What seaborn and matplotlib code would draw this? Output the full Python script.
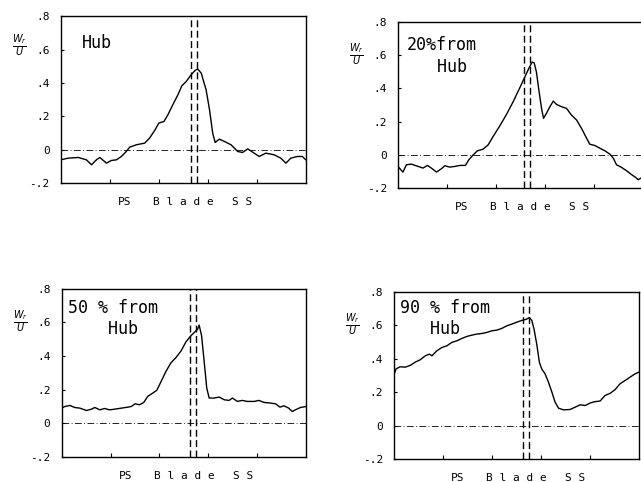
import matplotlib
matplotlib.use("Agg")
import matplotlib.pyplot as plt
import seaborn as sns
import pandas as pd

# pitch position (% of traverse) and Wr/U readings for each span station
hub_x = [0, 3.0, 7.1, 10.4, 12.5, 14.5, 15.9, 18.6, 20.6, 22.7, 24.7, 26.7, 28.1, 30.8,
         34.2, 36.2, 38.3, 40.0, 42.1, 43.7, 45.7, 47.8, 49.4, 51.2, 53.2, 54.8, 55.9,
         57.3, 59.3, 60.7, 62.0, 63.0, 64.7, 66.8, 69.5, 72.2, 74.2, 76.3, 78.3, 81.0,
         83.7, 87.1, 89.8, 91.9, 93.9, 96.6, 98.6, 100]
hub_w = [-0.06, -0.05, -0.046, -0.06, -0.09, -0.06, -0.046, -0.08, -0.064, -0.06, -0.04,
         -0.01, 0.016, 0.03, 0.04, 0.07, 0.116, 0.16, 0.17, 0.21, 0.27, 0.33, 0.384, 0.41,
         0.45, 0.476, 0.484, 0.46, 0.36, 0.24, 0.10, 0.044, 0.064, 0.05, 0.03, -0.01,
         -0.016, 0.006, -0.014, -0.04, -0.02, -0.03, -0.05, -0.08, -0.05, -0.04, -0.04, -0.06]

s20_x = [0, 1.1, 2.0, 3.4, 5.4, 8.2, 10.2, 12.0, 13.6, 15.7, 17.7, 19.1, 21.1, 23.2, 25.2,
         27.5, 28.9, 30.7, 32.4, 34.7, 36.8, 38.8, 41.6, 44.3, 47.0, 49.7, 51.8, 53.5, 54.8,
         55.6, 56.5, 57.6, 58.6, 59.4, 60.6, 62.0, 63.4, 64.7, 66.8, 68.8, 70.8, 72.9, 74.9,
         77.0, 78.3, 80.4, 82.4, 84.5, 86.5, 87.9, 89.2, 91.3, 93.3, 95.4, 97.0, 98.1, 99.2]
s20_w = [-0.07, -0.09, -0.104, -0.06, -0.056, -0.07, -0.08, -0.064, -0.08, -0.104, -0.084,
         -0.066, -0.074, -0.07, -0.064, -0.064, -0.03, 0.0, 0.024, 0.034, 0.06, 0.11, 0.176,
         0.244, 0.32, 0.404, 0.47, 0.524, 0.56, 0.554, 0.50, 0.38, 0.28, 0.22, 0.25, 0.29,
         0.324, 0.304, 0.29, 0.28, 0.24, 0.21, 0.16, 0.10, 0.064, 0.056, 0.04, 0.024, 0.004,
         -0.02, -0.06, -0.076, -0.096, -0.12, -0.136, -0.15, -0.14]

s50_x = [0, 1.4, 3.4, 5.4, 7.5, 10.2, 12.2, 13.6, 15.6, 17.6, 19.6, 21.7, 24.4, 27.1, 28.5,
         30.1, 31.8, 33.6, 35.2, 37.3, 38.9, 40.7, 42.7, 44.7, 46.7, 48.8, 50.8, 52.8, 54.5,
         55.6, 56.2, 57.2, 58.3, 59.3, 60.3, 62.3, 64.4, 66.4, 68.4, 69.8, 71.8, 73.8, 75.9,
         78.6, 80.6, 82.7, 85.4, 87.4, 89.2, 90.8, 92.8, 94.2, 95.5, 97.6, 100]
s50_w = [0.09, 0.10, 0.106, 0.094, 0.09, 0.076, 0.084, 0.094, 0.08, 0.088, 0.08, 0.084, 0.09,
         0.096, 0.10, 0.116, 0.11, 0.124, 0.16, 0.18, 0.196, 0.25, 0.31, 0.36, 0.39, 0.43,
         0.484, 0.52, 0.544, 0.56, 0.584, 0.52, 0.36, 0.21, 0.15, 0.15, 0.156, 0.14, 0.136,
         0.15, 0.13, 0.136, 0.13, 0.13, 0.136, 0.124, 0.12, 0.116, 0.096, 0.104, 0.09, 0.07,
         0.08, 0.094, 0.10]

s90_x = [0, 0.8, 2.4, 4.5, 6.5, 8.6, 10.6, 12.7, 14.4, 15.4, 17.4, 19.5, 21.5, 23.5, 25.6,
         27.6, 29.7, 31.7, 33.7, 35.8, 37.8, 39.9, 41.9, 43.9, 46.0, 48.0, 50.1, 52.1, 53.9,
         55.2, 56.2, 57.1, 58.2, 59.3, 60.3, 61.6, 63.0, 64.4, 65.7, 67.1, 69.1, 71.8, 73.9,
         75.9, 78.0, 80.0, 82.0, 84.1, 86.1, 88.2, 90.2, 92.2, 94.3, 96.3, 98.4, 100.4]
s90_w = [0.31, 0.34, 0.352, 0.35, 0.36, 0.38, 0.394, 0.418, 0.428, 0.418, 0.448, 0.468,
         0.478, 0.498, 0.508, 0.522, 0.534, 0.542, 0.548, 0.552, 0.558, 0.568, 0.572, 0.582,
         0.598, 0.608, 0.62, 0.63, 0.637, 0.647, 0.63, 0.578, 0.488, 0.378, 0.338, 0.31,
         0.26, 0.2, 0.14, 0.104, 0.094, 0.096, 0.11, 0.124, 0.12, 0.135, 0.143, 0.147, 0.18,
         0.193, 0.215, 0.25, 0.27, 0.29, 0.31, 0.323]

titles = ["Hub", "20%from\n   Hub", "50 % from\n    Hub", "90 % from\n   Hub"]
blade_edges = [(53.2, 55.4), (51.4, 53.8), (52.4, 54.9), (52.4, 55.1)]
y_ticks = [-0.2, 0, 0.2, 0.4, 0.6, 0.8]
y_ticklabels = ["-.2", "0", ".2", ".4", ".6", ".8"]

sns.set_style("white")
plt.rcParams["font.family"] = ["DejaVu Sans Mono", "DejaVu Sans"]
plt.rcParams["text.color"] = "black"
plt.rcParams["xtick.color"] = "black"
plt.rcParams["ytick.color"] = "black"

fig = plt.figure(figsize=(6.41, 4.82), dpi=100)
positions = [[0.095, 0.620, 0.382, 0.346],
             [0.621, 0.610, 0.382, 0.344],
             [0.096, 0.052, 0.382, 0.349],
             [0.615, 0.048, 0.382, 0.346]]
curves = [(hub_x, hub_w), (s20_x, s20_w), (s50_x, s50_w), (s90_x, s90_w)]
title_pos = [(0.085, 0.84, "center"), (0.035, 0.915, "top"),
             (0.025, 0.94, "top"), (0.024, 0.96, "top")]
frac_y = [0.82, 0.80, 0.80, 0.80]

for i in range(4):
    ax = fig.add_axes(positions[i])
    df = pd.DataFrame({"x": curves[i][0], "w": curves[i][1]})
    sns.lineplot(data=df, x="x", y="w", ax=ax, color="black", linewidth=1.0)

    # zero line and blade edges
    ax.axhline(0, color="black", linewidth=0.6, dashes=(8, 3, 1, 3))
    for xe in blade_edges[i]:
        ax.axvline(xe, color="black", linewidth=1.0, dashes=(5, 2.5))

    ax.set_xlim(0, 100)
    ax.set_ylim(-0.2, 0.8)
    ax.set_xticks([20, 40, 60, 80])
    ax.set_xticklabels([])
    ax.set_yticks(y_ticks)
    ax.set_yticklabels(y_ticklabels, fontsize=8)
    ax.tick_params(axis="x", direction="in", length=3, bottom=True)
    ax.tick_params(axis="y", direction="in", length=2, left=True, pad=8)
    ax.set_xlabel("")
    ax.set_ylabel("")
    for sp in ax.spines.values():
        sp.set_color("black")
        sp.set_linewidth(1.0)

    tx, ty, tva = title_pos[i]
    ax.text(tx, ty, titles[i], transform=ax.transAxes, fontsize=12,
            ha="left", va=tva, linespacing=1.25)

    for lab, xf in [("PS", 0.26), ("B l a d e", 0.50), ("S S", 0.74)]:
        ax.text(xf, -0.115, lab, transform=ax.transAxes, fontsize=8,
                ha="center", va="center")

    ax.text(-0.17, frac_y[i], r"$\frac{W_r}{U}$", transform=ax.transAxes,
            fontsize=10, ha="center", va="center")

fig.savefig("out.png", dpi=100)
